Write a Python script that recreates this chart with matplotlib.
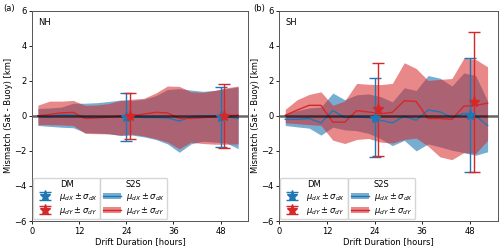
import matplotlib
matplotlib.use("Agg")
import matplotlib.pyplot as plt
from matplotlib.patches import Patch
from matplotlib.lines import Line2D

# ---------------- data ----------------
hours = [1.5, 4.5, 7.5, 10.5, 13.5, 16.5, 19.5, 22.5, 25.5, 28.5,
         31.5, 34.5, 37.5, 40.5, 43.5, 46.5, 49.5, 52.5]

# NH S2S
nh_x_mean = [0.0, -0.05, 0.05, 0.05, -0.05, -0.05, -0.05, -0.05, -0.05,
             -0.1, -0.1, -0.12, -0.3, -0.05, 0.0, 0.0, -0.05, -0.15]
nh_x_up = [0.42, 0.45, 0.5, 0.72, 0.72, 0.75, 0.82, 0.9, 0.88, 0.95,
           1.15, 1.5, 1.55, 1.47, 1.4, 1.45, 1.55, 1.65]
nh_x_lo = [-0.55, -0.6, -0.65, -0.68, -0.95, -0.98, -1.02, -1.12, -1.1, -1.2,
           -1.35, -1.6, -2.08, -1.6, -1.45, -1.5, -1.55, -1.87]
nh_y_mean = [0.0, 0.08, 0.17, 0.2, -0.15, -0.12, -0.08, 0.0, 0.0, 0.1,
             0.2, 0.17, -0.15, -0.15, -0.1, -0.05, 0.0, 0.05]
nh_y_up = [0.61, 0.84, 0.84, 0.88, 0.6, 0.62, 0.7, 0.88, 0.95, 1.0,
           1.3, 1.7, 1.68, 1.37, 1.34, 1.45, 1.6, 1.7]
nh_y_lo = [-0.5, -0.5, -0.52, -0.55, -1.0, -1.02, -1.03, -1.1, -1.05, -1.15,
           -1.3, -1.5, -1.88, -1.5, -1.58, -1.62, -1.62, -1.6]

# SH S2S
sh_x_mean = [-0.2, -0.2, -0.15, -0.4, 0.3, -0.1, -0.05, -0.1, -0.25,
             -0.4, -0.02, -0.25, 0.33, 0.23, -0.1, 0.14, 0.0, -0.55]
sh_x_up = [0.1, 0.3, 0.45, 0.5, 1.3, 0.92, 1.2, 1.25, 1.1, 0.8,
           1.6, 1.45, 2.3, 2.15, 1.7, 2.45, 2.3, 0.85]
sh_x_lo = [-0.55, -0.63, -0.7, -1.1, -0.65, -0.8, -0.85, -1.0, -1.3, -1.7,
           -1.4, -2.0, -1.6, -1.77, -1.96, -2.1, -2.25, -2.05]
sh_y_mean = [0.03, 0.33, 0.6, 0.6, -0.36, -0.36, 0.3, 0.22, 0.12, 0.2,
             0.86, 0.82, -0.15, -0.15, -0.2, 0.55, 0.6, 0.72]
sh_y_up = [0.37, 0.92, 1.22, 1.37, 0.6, 0.85, 1.85, 1.8, 1.78, 1.85,
           3.03, 2.7, 2.02, 2.08, 2.13, 3.28, 3.22, 2.8]
sh_y_lo = [-0.4, -0.45, -0.5, -0.55, -1.39, -1.58, -1.35, -1.29, -1.5, -1.55,
           -1.35, -1.27, -1.73, -2.34, -2.5, -2.1, -2.15, -1.4]

# DM (mean, std) at 24 h and 48 h
dm_hours = [24, 48]
nh_dm_x_mean = [-0.05, -0.05]
nh_dm_x_std = [1.37, 1.72]
nh_dm_y_mean = [0.0, 0.0]
nh_dm_y_std = [1.31, 1.82]
sh_dm_x_mean = [-0.1, 0.04]
sh_dm_x_std = [2.25, 3.25]
sh_dm_y_mean = [0.37, 0.8]
sh_dm_y_std = [2.65, 4.0]

panel_labels = ["(a)", "(b)"]
region_labels = ["NH", "SH"]
xticks = [0, 12, 24, 36, 48]
yticks = [-6, -4, -2, 0, 2, 4, 6]

# ---------------- plot ----------------
BLUE = "#1f77b4"
RED = "#d62728"
A_BLUE = 0.6
A_RED = 0.55
FS = 6

fig = plt.figure(figsize=(5.0, 2.46), dpi=100)
ax1 = fig.add_axes([0.064, 0.1016, 0.432, 0.855])
ax2 = fig.add_axes([0.5586, 0.1016, 0.4364, 0.855])

panels = [
    (ax1, nh_x_mean, nh_x_up, nh_x_lo, nh_y_mean, nh_y_up, nh_y_lo,
     nh_dm_x_mean, nh_dm_x_std, nh_dm_y_mean, nh_dm_y_std),
    (ax2, sh_x_mean, sh_x_up, sh_x_lo, sh_y_mean, sh_y_up, sh_y_lo,
     sh_dm_x_mean, sh_dm_x_std, sh_dm_y_mean, sh_dm_y_std),
]

for k, (ax, xm, xu, xl, ym, yu, yl, dxm, dxs, dym, dys) in enumerate(panels):
    ax.fill_between(hours, xl, xu, color=BLUE, alpha=A_BLUE, lw=0)
    ax.fill_between(hours, yl, yu, color=RED, alpha=A_RED, lw=0)
    ax.plot(hours, xm, color=BLUE, lw=1.0)
    ax.plot(hours, ym, color=RED, lw=1.0)
    ax.axhline(0, color="black", lw=1.8, alpha=0.6)

    dmx = [h for h in dm_hours]
    dmy = [h + 1 for h in dm_hours]
    ebx = ax.errorbar(dmx, dxm, yerr=dxs, fmt="*", color=BLUE, ms=8,
                      elinewidth=1.0, capsize=4, capthick=1.0)
    eby = ax.errorbar(dmy, dym, yerr=dys, fmt="*", color=RED, ms=8,
                      elinewidth=1.0, capsize=4, capthick=1.0)

    ax.set_xlim(0, 55)
    ax.set_ylim(-6, 6)
    ax.set_xticks(xticks)
    ax.set_yticks(yticks)
    ax.tick_params(labelsize=FS, length=2.5, width=0.6, pad=1.5)
    for s in ax.spines.values():
        s.set_linewidth(0.7)
        s.set_color("#555555")
    ax.set_xlabel("Drift Duration [hours]", fontsize=FS, labelpad=1)
    ax.set_ylabel("Mismatch (Sat - Buoy) [km]", fontsize=FS, labelpad=1)
    ax.text(0.03, 0.965, region_labels[k], transform=ax.transAxes,
            fontsize=FS, va="top", ha="left")

    lab_x = r"$\mu_{dX} \pm \sigma_{dX}$"
    lab_y = r"$\mu_{dY} \pm \sigma_{dY}$"
    leg1 = ax.legend([ebx, eby], [lab_x, lab_y], title="DM",
                     loc="lower left", bbox_to_anchor=(0.005, 0.008),
                     borderaxespad=0,
                     fontsize=FS, title_fontsize=FS, framealpha=0.8,
                     borderpad=0.3, handlelength=2.2, labelspacing=0.22,
                     handletextpad=0.6)
    ax.add_artist(leg1)
    hx = (Patch(facecolor=BLUE, alpha=A_BLUE, lw=0), Line2D([], [], color=BLUE, lw=1.0))
    hy = (Patch(facecolor=RED, alpha=A_RED, lw=0), Line2D([], [], color=RED, lw=1.0))
    ax.legend([hx, hy], [lab_x, lab_y], title="S2S",
              loc="lower left", bbox_to_anchor=(0.316, 0.008),
              borderaxespad=0,
              fontsize=FS, title_fontsize=FS, framealpha=0.8,
              borderpad=0.3, handlelength=2.2, labelspacing=0.22,
              handletextpad=0.6)

fig.text(0.006, 0.985, panel_labels[0], fontsize=FS, va="top", ha="left")
fig.text(0.506, 0.985, panel_labels[1], fontsize=FS, va="top", ha="left")

fig.savefig("out.png", dpi=100)
